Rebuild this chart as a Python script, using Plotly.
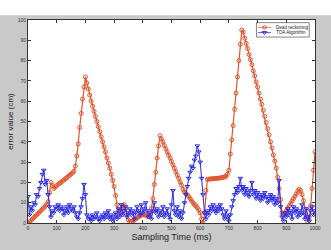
import plotly.graph_objects as go

time_ms = [i * 5 for i in range(201)]

dead_reckoning = [
    0, 0.5, 1.2, 1.9, 2.6, 3.3, 4.0, 4.7, 5.4, 6.1,
    6.8, 7.5, 8.3, 9.2, 10.5, 15.0, 20.0, 18.5, 17.0, 17.8,
    18.4, 19.0, 19.5, 20.0, 20.6, 21.2, 21.8, 22.3, 22.9, 23.5,
    24.1, 24.7, 25.5, 28, 33, 39, 47, 54, 61, 67,
    72, 69, 66, 63, 60, 57.5, 55, 52.5, 50, 47.5,
    45, 42.5, 40, 37.5, 35, 32, 29.5, 27, 24, 21,
    18, 13.5, 9, 6, 5, 7, 8.5, 9, 7, 4,
    1.5, 0.5, 0.5, 1, 1.5, 2, 2.5, 3, 3.5, 4,
    4, 4, 4, 3.5, 3, 4, 7, 12, 19, 25,
    32, 38, 43, 41.5, 40, 38.2, 36.6, 35, 33.4, 32,
    30.3, 28.7, 27, 25.3, 23.6, 22, 20.3, 18.6, 16.6, 15.4,
    14.6, 13.8, 13, 12, 11, 10, 9, 8.5, 7.5, 6.5,
    5, 2, 0, 5, 16, 21.5, 21.6, 21.7, 21.8, 21.8,
    21.9, 22, 22, 22.1, 22.2, 22.3, 22.5, 22.7, 23, 24,
    26, 34, 41, 48, 56, 64, 72, 80, 88, 95,
    94, 91, 88.5, 86, 83, 80.5, 78, 75, 72.5, 69.5,
    67, 64, 61, 58.5, 55.5, 52.5, 49.5, 46.5, 43.5, 40,
    37, 33.5, 30.5, 27, 22.5, 17, 11.5, 5, 4, 5,
    6, 7.2, 8.4, 9.6, 10.8, 12, 13.2, 14.4, 15.6, 16.6,
    16, 14, 11, 7, 3, 0.5, 3, 8.5, 17, 26,
    35,
]

toa_algorithm = [
    13, 4, 8, 6, 10, 9, 14, 13, 17, 20,
    24, 26, 19, 21, 14, 8, 3, 6, 5, 8,
    7, 9, 6, 8, 7, 4, 6, 8, 5, 9,
    7, 6, 8, 5, 3, 2, 5, 8, 12, 19,
    14, 4, 2, 3, 1, 4, 2, 3, 5, 2,
    1, 3, 4, 2, 5, 3, 6, 2, 4, 1,
    3, 5, 2, 7, 3, 9, 4, 6, 8, 3,
    5, 7, 4, 6, 2, 5, 8, 6, 4, 9,
    5, 7, 10, 6, 3, 5, 2, 6, 10, 5,
    7, 3, 6, 4, 8, 3, 5, 7, 4, 2,
    9, 16, 6, 4, 8, 3, 6, 2, 5, 10,
    14, 18, 22, 25, 28, 27, 31, 33, 38, 35,
    30, 22, 14, 5, 2, 6, 4, 8, 6, 9,
    7, 5, 8, 6, 9, 7, 4, 2, 6, 3,
    1, 4, 8, 11, 14, 17, 15, 18, 22, 16,
    18, 14, 17, 15, 13, 16, 20, 14, 16, 12,
    15, 13, 11, 14, 12, 15, 13, 10, 12, 14,
    11, 13, 9, 12, 10, 21, 8, 3, 1, 5,
    3, 7, 4, 6, 2, 8, 5, 7, 3, 6,
    4, 9, 5, 2, 7, 3, 1, 6, 8, 4,
    6,
]

series_names = ["Dead reckoning", "TOA Algorithm"]
x_ticks = [0, 100, 200, 300, 400, 500, 600, 700, 800, 900, 1000]
y_ticks = [0, 10, 20, 30, 40, 50, 60, 70, 80, 90, 100]

RED = "#e0552c"
BLUE = "#2b2be6"
FONT = "Liberation Sans, Arial"

fig = go.Figure()
fig.add_trace(go.Scatter(
    x=time_ms, y=dead_reckoning, name=series_names[0], showlegend=False,
    mode="lines+markers",
    line=dict(color=RED, width=1.2),
    marker=dict(symbol="circle-open", size=4, color=RED, line=dict(width=1)),
))
fig.add_trace(go.Scatter(
    x=time_ms, y=toa_algorithm, name=series_names[1], showlegend=False,
    mode="lines+markers",
    line=dict(color=BLUE, width=1),
    marker=dict(symbol="triangle-down-open", size=4, color=BLUE, line=dict(width=1)),
))

# compact MATLAB-style legend drawn on an overlay axis (0..1 in plot-area units)
leg_x0, leg_x1 = 0.802, 0.846
leg_rows = [0.9635, 0.938]
fig.add_trace(go.Scatter(
    x=[leg_x0, leg_x1], y=[leg_rows[0]] * 2, xaxis="x2", yaxis="y2",
    mode="lines", line=dict(color=RED, width=0.8), showlegend=False, hoverinfo="skip"))
fig.add_trace(go.Scatter(
    x=[(leg_x0 + leg_x1) / 2], y=[leg_rows[0]], xaxis="x2", yaxis="y2",
    mode="markers", marker=dict(symbol="circle-open", size=3.5, color=RED),
    showlegend=False, hoverinfo="skip"))
fig.add_trace(go.Scatter(
    x=[leg_x0, leg_x1], y=[leg_rows[1]] * 2, xaxis="x2", yaxis="y2",
    mode="lines", line=dict(color=BLUE, width=0.8), showlegend=False, hoverinfo="skip"))
fig.add_trace(go.Scatter(
    x=[(leg_x0 + leg_x1) / 2], y=[leg_rows[1]], xaxis="x2", yaxis="y2",
    mode="markers", marker=dict(symbol="triangle-down-open", size=4, color=BLUE),
    showlegend=False, hoverinfo="skip"))

annotations = [
    dict(x=0.856, y=row, xref="paper", yref="paper", text=name, showarrow=False,
         xanchor="left", yanchor="middle",
         font=dict(family=FONT, size=4.6, color="#222222"))
    for name, row in zip(series_names, leg_rows)
]

axis_common = dict(
    showgrid=False, zeroline=False, showline=True, linecolor="#333333", linewidth=1,
    mirror="ticks", ticks="inside", ticklen=3, tickcolor="#333333",
    tickfont=dict(family=FONT, size=5, color="#333333"),
)

fig.update_layout(
    width=331, height=250,
    margin=dict(l=22, r=10, t=20, b=19),
    paper_bgcolor="#c9c9c9", plot_bgcolor="white",
    showlegend=False,
    xaxis=dict(range=[0, 1000], tickvals=x_ticks,
               title=dict(text="Sampling Time (ms)", standoff=3,
                          font=dict(family=FONT, size=9, color="#222222")),
               **axis_common),
    yaxis=dict(range=[0, 100], tickvals=y_ticks,
               title=dict(text="error value (cm)", standoff=2,
                          font=dict(family=FONT, size=8, color="#222222")),
               **axis_common),
    xaxis2=dict(range=[0, 1], overlaying="x", visible=False, fixedrange=True),
    yaxis2=dict(range=[0, 1], overlaying="y", visible=False, fixedrange=True),
    annotations=annotations,
    shapes=[
        dict(type="rect", xref="paper", yref="paper", x0=-0.2, x1=1.1,
             y0=1.0237, y1=1.2, fillcolor="white", line=dict(width=0), layer="below"),
        dict(type="rect", xref="paper", yref="paper", x0=0.796, x1=0.980,
             y0=0.916, y1=0.987, fillcolor="white",
             line=dict(color="#333333", width=0.6), layer="below"),
    ],
)

fig.write_html("out.html")
